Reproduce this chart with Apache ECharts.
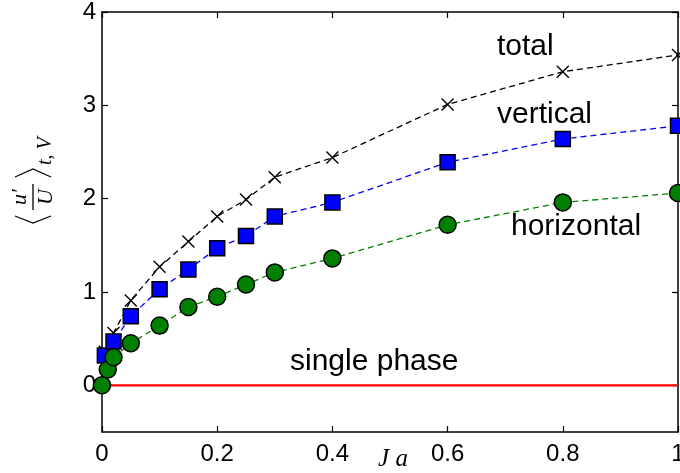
<!DOCTYPE html>
<html>
<head>
<meta charset="utf-8">
<script src="https://cdn.jsdelivr.net/npm/echarts@6/dist/echarts.min.js"></script>
<style>html,body{margin:0;padding:0;background:#fff}#c{width:680px;height:473px}</style>
</head>
<body>
<div id="c"></div>
<script>
// Data
var jaTotal = [0.005, 0.02, 0.05, 0.1, 0.15, 0.2, 0.25, 0.3, 0.4, 0.6, 0.8, 1.0];
var total = [0.36, 0.56, 0.91, 1.27, 1.54, 1.81, 1.99, 2.23, 2.44, 3.01, 3.36, 3.54];
var jaVertical = [0.005, 0.02, 0.05, 0.1, 0.15, 0.2, 0.25, 0.3, 0.4, 0.6, 0.8, 1.0];
var vertical = [0.32, 0.47, 0.74, 1.03, 1.24, 1.47, 1.6, 1.81, 1.96, 2.39, 2.64, 2.78];
var jaHorizontal = [0, 0.01, 0.02, 0.05, 0.1, 0.15, 0.2, 0.25, 0.3, 0.4, 0.6, 0.8, 1.0];
var horizontal = [0, 0.17, 0.3, 0.45, 0.64, 0.84, 0.95, 1.08, 1.21, 1.36, 1.72, 1.96, 2.06];
var jaSingle = [0, 1];
var single = [0, 0];
var yTicks = [0, 1, 2, 3, 4];

function pairs(xs, ys) { return xs.map(function (x, i) { return [x, ys[i]]; }); }

var chart = echarts.init(document.getElementById('c'), null, {renderer: 'canvas'});
var tickFont = {fontFamily: 'Liberation Sans, Arial, sans-serif', fontSize: 24, color: '#000'};
var annFont = 'Liberation Sans, Arial, sans-serif';
var axLine = {show: true, onZero: false, lineStyle: {color: '#000', width: 1.5}};
var axTick = {show: true, inside: true, length: 6, lineStyle: {color: '#000', width: 1.2}};

chart.setOption({
  animation: false,
  backgroundColor: '#fff',
  grid: {left: 102, right: 2, top: 12, bottom: 41, containLabel: false, outerBoundsMode: 'none'},
  xAxis: [{
    type: 'value', min: 0, max: 1, interval: 0.2,
    name: 'J a', nameLocation: 'middle', nameGap: 15, nameMoveOverlap: false,
    nameTextStyle: {fontFamily: 'Liberation Serif, serif', fontStyle: 'italic', fontSize: 25, color: '#000', padding: [0, 0, 0, 6]},
    axisLine: axLine, axisTick: axTick,
    axisLabel: Object.assign({margin: 10}, tickFont),
    splitLine: {show: false}
  }, {
    type: 'value', position: 'top', min: 0, max: 1, interval: 0.2,
    axisLine: axLine, axisTick: axTick, axisLabel: {show: false}, splitLine: {show: false}
  }],
  yAxis: [{
    type: 'value', min: -0.5, max: 4,
    axisLine: axLine,
    axisTick: Object.assign({customValues: yTicks}, axTick),
    axisLabel: Object.assign({margin: 6, customValues: yTicks}, tickFont),
    splitLine: {show: false}
  }, {
    type: 'value', position: 'right', min: -0.5, max: 4,
    axisLine: axLine,
    axisTick: Object.assign({customValues: yTicks}, axTick),
    axisLabel: {show: false}, splitLine: {show: false}
  }],
  series: [{
    name: 'single phase', type: 'line', data: pairs(jaSingle, single),
    symbol: 'none', lineStyle: {color: '#ff0000', width: 2.2}, z: 1
  }, {
    name: 'total', type: 'line', data: pairs(jaTotal, total),
    symbol: 'path://M0,0L10,10M10,0L0,10', symbolSize: 12,
    itemStyle: {color: 'rgba(0,0,0,0)', borderColor: '#000', borderWidth: 1.4},
    lineStyle: {color: '#000', width: 1.3, type: [6, 4]}, z: 2
  }, {
    name: 'vertical', type: 'line', data: pairs(jaVertical, vertical),
    symbol: 'rect', symbolSize: 15,
    itemStyle: {color: '#0000ff', borderColor: '#000', borderWidth: 1.5},
    lineStyle: {color: '#0000ff', width: 1.3, type: [6, 4]}, z: 3
  }, {
    name: 'horizontal', type: 'line', data: pairs(jaHorizontal, horizontal),
    symbol: 'circle', symbolSize: 17,
    itemStyle: {color: '#008000', borderColor: '#000', borderWidth: 1.5},
    lineStyle: {color: '#008000', width: 1.3, type: [6, 4]}, z: 4
  }],
  graphic: [
    {type: 'text', left: 497, top: 32, z: 10, style: {text: 'total', font: '30px ' + annFont, fill: '#000'}},
    {type: 'text', left: 497, top: 100, z: 10, style: {text: 'vertical', font: '30px ' + annFont, fill: '#000'}},
    {type: 'text', left: 511, top: 212, z: 10, style: {text: 'horizontal', font: '30px ' + annFont, fill: '#000'}},
    {type: 'text', left: 290, top: 347, z: 10, style: {text: 'single phase', font: '30px ' + annFont, fill: '#000'}},
    {
      type: 'group', x: 33, y: 197, rotation: Math.PI / 2,
      children: [
        {type: 'polyline', shape: {points: [[-19, -18], [-26, 0], [-19, 18]]}, style: {stroke: '#000', lineWidth: 1.2, fill: null}},
        {type: 'polyline', shape: {points: [[20, -18], [28, 0], [20, 18]]}, style: {stroke: '#000', lineWidth: 1.2, fill: null}},
        {type: 'line', shape: {x1: -13, y1: 0, x2: 13, y2: 0}, style: {stroke: '#000', lineWidth: 1.3}},
        {type: 'text', x: 0, y: -2, style: {text: 'u\u2032', font: 'italic 22px Liberation Serif, serif', fill: '#000', align: 'center', verticalAlign: 'bottom'}},
        {type: 'text', x: 0, y: 2, style: {text: 'U', font: 'italic 22px Liberation Serif, serif', fill: '#000', align: 'center', verticalAlign: 'top'}},
        {type: 'text', x: 32, y: 3, style: {text: 't, V', font: 'italic 20px Liberation Serif, serif', fill: '#000', align: 'left', verticalAlign: 'top'}}
      ]
    }
  ]
});
</script>
</body>
</html>
